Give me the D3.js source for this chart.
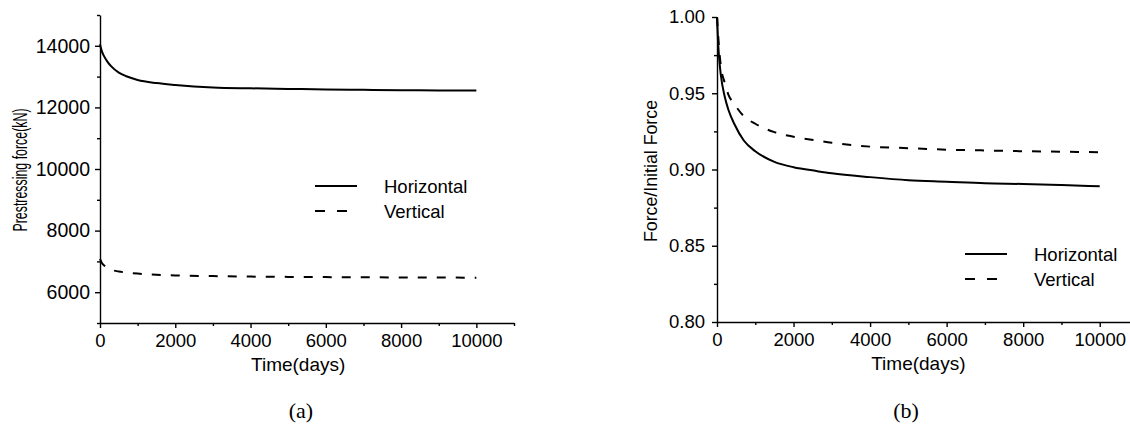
<!DOCTYPE html>
<html>
<head>
<meta charset="utf-8">
<script src="https://cdn.jsdelivr.net/npm/d3@7"></script>
<style>
  body { margin: 0; background: #fff; }
  svg { display: block; }
  text { font-family: "Liberation Sans", Arial, sans-serif; fill: #000; }
  .axis path, .axis line { stroke: #000; stroke-width: 1.4; }
</style>
</head>
<body>
<div id="chart"></div>
<script>
// ---- data ----
var timeA = [0, 50, 100, 200, 300, 500, 700, 1000, 1500, 2000, 3000, 4000, 5000, 6000, 7000, 8000, 9000, 10000];
var horizA = [14050, 13820, 13680, 13480, 13330, 13130, 13010, 12890, 12790, 12730, 12650, 12620, 12600, 12585, 12570, 12560, 12552, 12545];
var vertA = [7080, 6950, 6880, 6790, 6730, 6670, 6640, 6605, 6565, 6545, 6522, 6507, 6497, 6490, 6484, 6479, 6475, 6472];

var timeB = [0, 25, 50, 100, 200, 300, 450, 700, 1000, 1500, 2000, 2600, 3000, 4000, 5000, 6000, 7000, 8000, 9000, 10000];
var horizB = [1.0, 0.985, 0.975, 0.962, 0.948, 0.939, 0.930, 0.919, 0.912, 0.905, 0.9015, 0.899, 0.8975, 0.895, 0.893, 0.892, 0.891, 0.8905, 0.8898, 0.889];
var vertB = [1.0, 0.99, 0.981, 0.968, 0.957, 0.949, 0.943, 0.935, 0.930, 0.9245, 0.9215, 0.919, 0.9175, 0.915, 0.914, 0.913, 0.9125, 0.912, 0.9117, 0.9113];

var seriesNames = ["Horizontal", "Vertical"];
var xMajorTicks = [0, 2000, 4000, 6000, 8000, 10000];
var xMinorTicks = [1000, 3000, 5000, 7000, 9000, 11000];
var yMajorA = [6000, 8000, 10000, 12000, 14000];
var yMinorA = [5000, 7000, 9000, 11000, 13000, 15000];
var yMajorB = [0.80, 0.85, 0.90, 0.95, 1.00];
var yMinorB = [0.825, 0.875, 0.925, 0.975];

var W = 1130, H = 428;
var svg = d3.select("#chart").append("svg").attr("width", W).attr("height", H);

function drawPanel(cfg) {
    var x = d3.scaleLinear().domain([0, 11000]).range([cfg.left, cfg.left + cfg.xLen]);
    var y = d3.scaleLinear().domain(cfg.yDomain).range([cfg.bottom, cfg.top]);
    var g = svg.append("g");

    // minor ticks first, then major axes on top
    g.append("g").attr("class", "axis")
        .attr("transform", "translate(0," + cfg.bottom + ")")
        .call(d3.axisBottom(x).tickValues(xMinorTicks).tickSize(3).tickSizeOuter(0).tickFormat(""))
        .select(".domain").remove();
    g.append("g").attr("class", "axis")
        .attr("transform", "translate(" + cfg.left + ",0)")
        .call(d3.axisLeft(y).tickValues(cfg.yMinor).tickSize(3).tickSizeOuter(0).tickFormat(""))
        .select(".domain").remove();

    var xAxis = g.append("g").attr("class", "axis")
        .attr("transform", "translate(0," + cfg.bottom + ")")
        .call(d3.axisBottom(x).tickValues(xMajorTicks).tickSize(5).tickPadding(6).tickSizeOuter(0).tickFormat(d3.format("d")));
    xAxis.selectAll("text").style("font-size", "18.5px");

    var yAxis = g.append("g").attr("class", "axis")
        .attr("transform", "translate(" + cfg.left + ",0)")
        .call(d3.axisLeft(y).tickValues(cfg.yMajor).tickSize(5).tickPadding(cfg.yPad).tickSizeOuter(0).tickFormat(cfg.yFormat));
    yAxis.selectAll("text").style("font-size", cfg.yTickSize + "px");

    g.append("text")
        .attr("x", cfg.left + (x(10000) - cfg.left) / 2 + 10)
        .attr("y", cfg.bottom + 48)
        .attr("text-anchor", "middle")
        .style("font-size", "19px")
        .text("Time(days)");

    var yl = g.append("text")
        .attr("transform", "translate(" + cfg.yLabelX + "," + cfg.yLabelY + ") rotate(-90)")
        .attr("text-anchor", "middle")
        .style("font-size", cfg.yLabelSize + "px")
        .text(cfg.yLabel);
    if (cfg.yLabelLen) yl.attr("textLength", cfg.yLabelLen).attr("lengthAdjust", "spacingAndGlyphs");

    var line = d3.line().x(function(d) { return x(d[0]); }).y(function(d) { return y(d[1]); }).curve(d3.curveMonotoneX);
    var styles = [null, "9,10"];
    cfg.series.forEach(function(vals, i) {
        g.append("path")
            .datum(cfg.time.map(function(t, j) { return [t, vals[j]]; }))
            .attr("d", line)
            .attr("fill", "none")
            .attr("stroke", "#000")
            .attr("stroke-width", 2)
            .attr("stroke-dasharray", styles[i]);
    });

    // legend
    seriesNames.forEach(function(name, i) {
        var ly = cfg.legendY + i * 25;
        g.append("line")
            .attr("x1", cfg.legendX).attr("x2", cfg.legendX + 42)
            .attr("y1", ly).attr("y2", ly)
            .attr("stroke", "#000").attr("stroke-width", 2)
            .attr("stroke-dasharray", styles[i] ? "10,12" : null);
        g.append("text")
            .attr("x", cfg.legendX + 69).attr("y", ly + 7)
            .style("font-size", "18.5px")
            .text(name);
    });

    g.append("text")
        .attr("x", cfg.captionX).attr("y", 418)
        .attr("text-anchor", "middle")
        .style("font-family", "'Liberation Serif', 'Times New Roman', serif")
        .style("font-size", "22px")
        .text(cfg.caption);
}

drawPanel({
    left: 100, xLen: 414, top: 15, bottom: 323,
    yDomain: [5000, 15000], yMajor: yMajorA, yMinor: yMinorA,
    yFormat: d3.format("d"), yPad: 5, yTickSize: 19.5,
    yLabel: "Prestressing force(kN)", yLabelX: 27, yLabelY: 170, yLabelSize: 19.5, yLabelLen: 123,
    time: timeA, series: [horizA, vertA],
    legendX: 315, legendY: 186, caption: "(a)", captionX: 301
});

drawPanel({
    left: 717, xLen: 421, top: 17, bottom: 322,
    yDomain: [0.80, 1.00], yMajor: yMajorB, yMinor: yMinorB,
    yFormat: d3.format(".2f"), yPad: 7, yTickSize: 18.5,
    yLabel: "Force/Initial Force", yLabelX: 657, yLabelY: 171, yLabelSize: 18.5, yLabelLen: 142,
    time: timeB, series: [horizB, vertB],
    legendX: 965, legendY: 254, caption: "(b)", captionX: 906
});
</script>
</body>
</html>
